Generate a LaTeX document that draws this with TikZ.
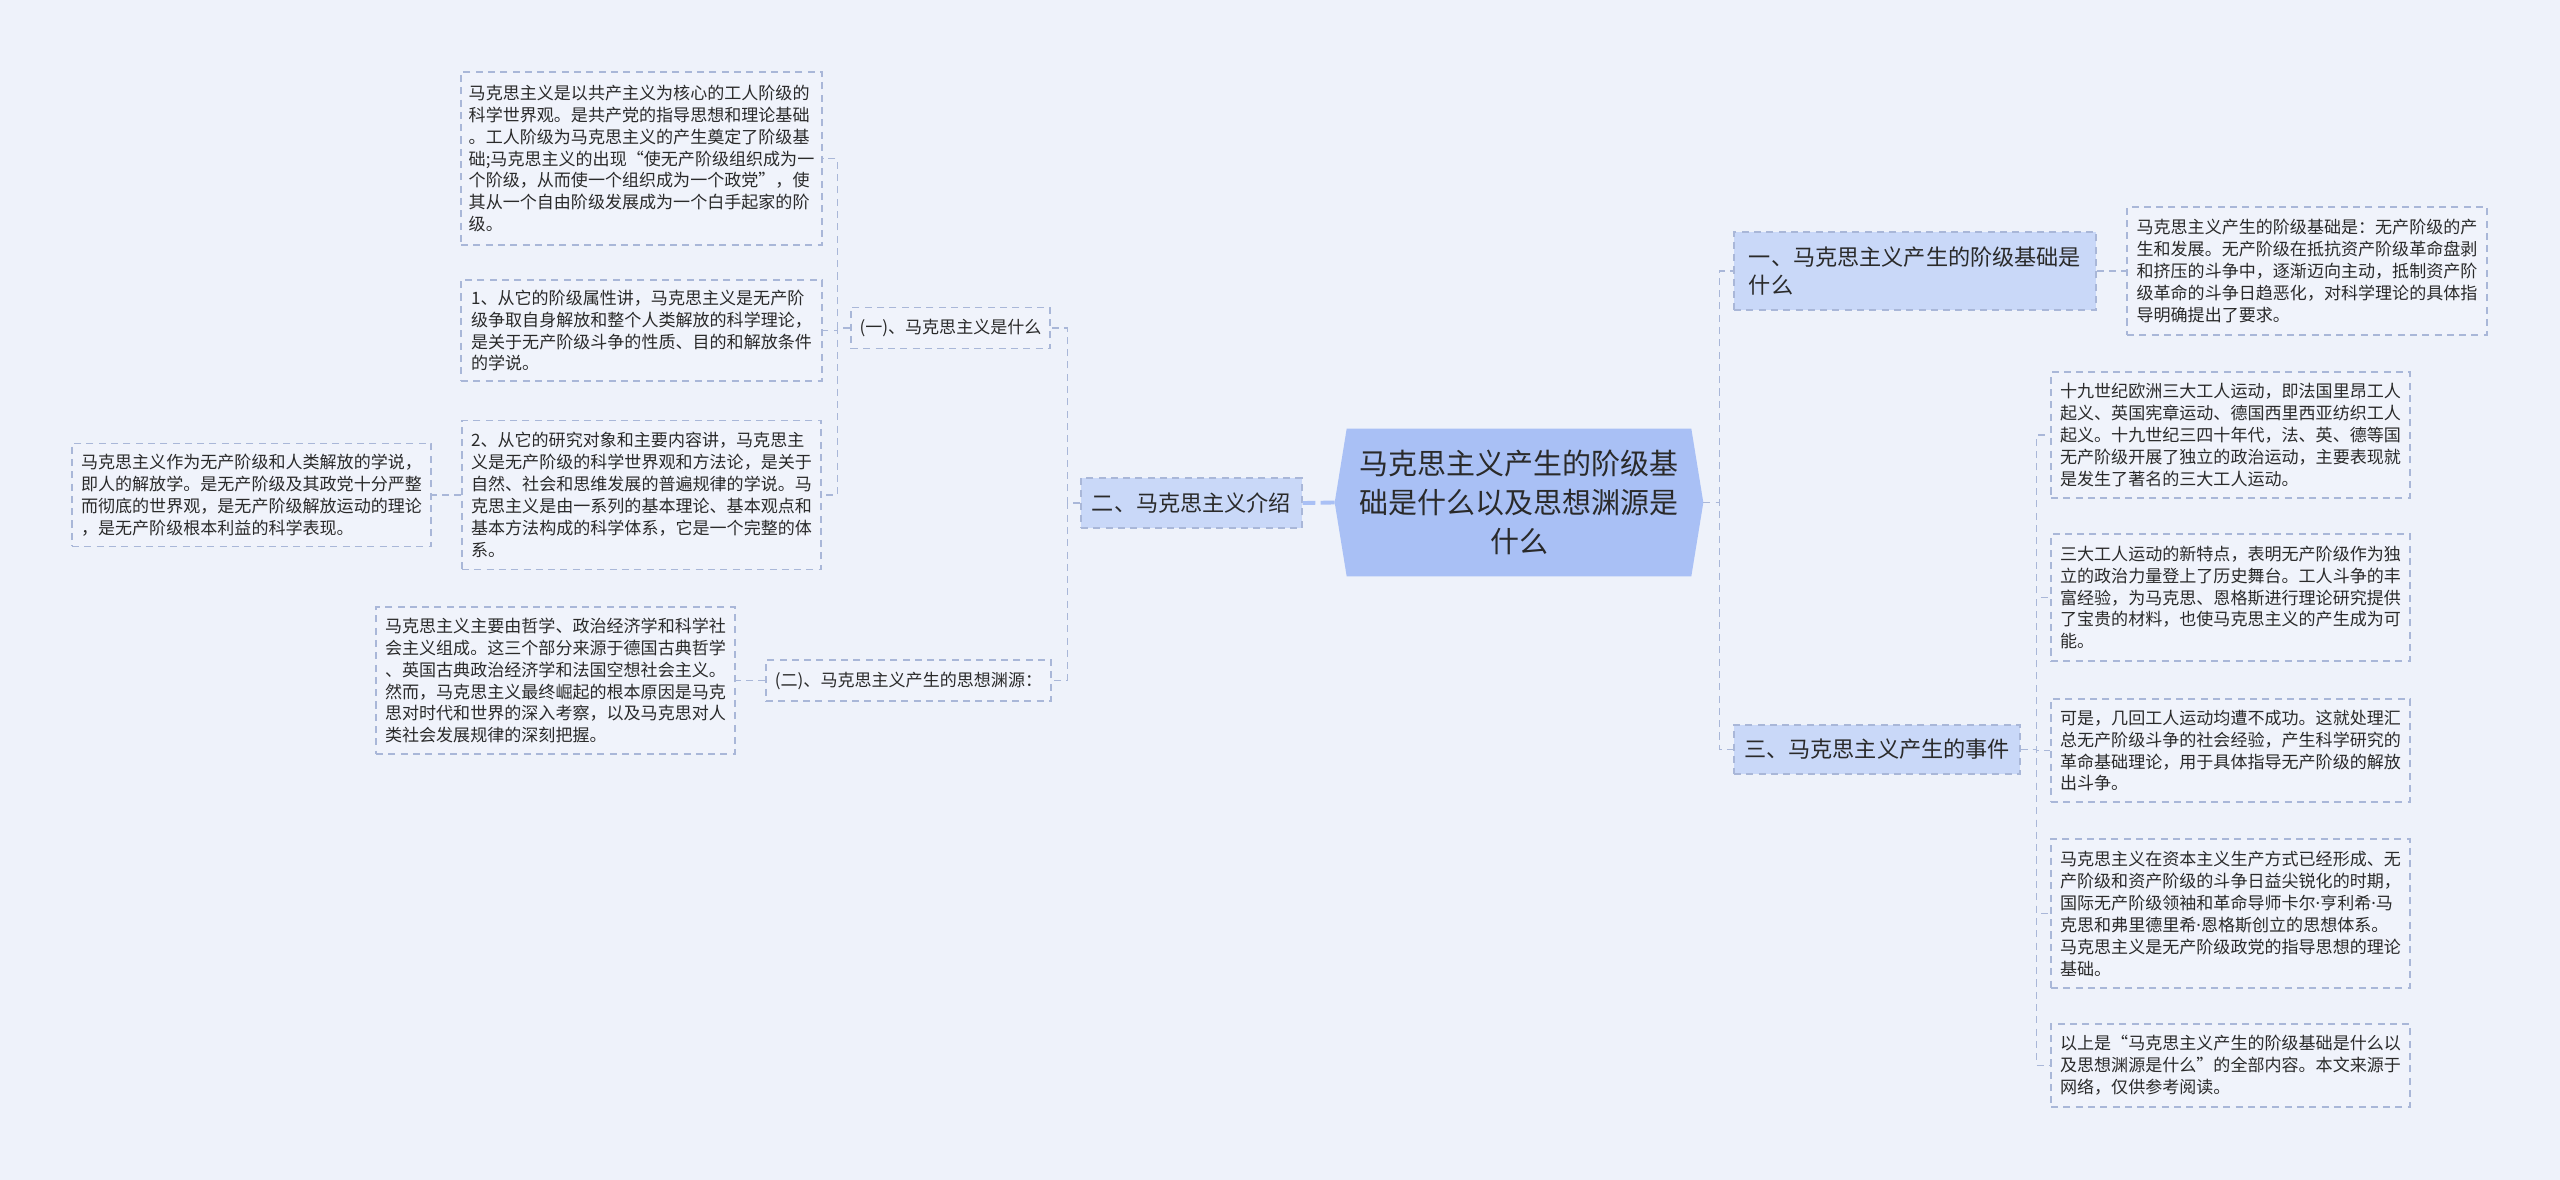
\documentclass[tikz,border=0pt]{standalone}
\usepackage{fontspec}
\setmainfont{Noto Sans CJK SC}
\newfontfamily\dotfont{Noto Sans}
\newcommand\mdot{{\dotfont ·}}
\definecolor{bgcol}{HTML}{EEF2FA}
\definecolor{leafcol}{HTML}{F0F3FB}
\definecolor{linecol}{HTML}{A9B7D8}
\definecolor{topiccol}{HTML}{C9D8F8}
\definecolor{rootcol}{HTML}{A9C0F5}
\definecolor{txtcol}{HTML}{2A2A2A}
\pgfdeclarelayer{bg}
\pgfsetlayers{bg,main}

\begin{document}
\begin{tikzpicture}[x=0.02cm,y=-0.02cm,
  leaf/.style={draw=linecol,fill=leafcol,dash pattern=on 4pt off 3pt,line width=0.7pt,text=txtcol,align=left,font=\fontsize{9.7pt}{12.5pt}\selectfont},
  subtopic/.style={leaf,minimum height=0.82cm},
  topic/.style={leaf,fill=topiccol,align=left,font=\fontsize{12.6pt}{15.9pt}\selectfont},
  root/.style={text=txtcol,align=center,minimum width=6.88cm,minimum height=2.94cm,font=\fontsize{16.5pt}{22pt}\selectfont},
  link/.style={draw=linecol,dash pattern=on 4pt off 3pt,line width=0.7pt},
  mainlink/.style={draw=rootcol,dash pattern=on 8pt off 3pt,line width=2.2pt}]
\tikzstyle{every node}+=[inner sep=0pt]
\node[root] (c) at (1519,502.5) {马克思主义产生的阶级基\\础是什么以及思想渊源是\\什么};
\node[topic,minimum width=4.42cm,minimum height=1cm] (b2) at (1191.5,503) {二、马克思主义介绍};
\node[topic,minimum width=7.24cm,minimum height=1.56cm] (a1) at (1915,271) {一、马克思主义产生的阶级基础是\\什么};
\node[topic,minimum width=5.72cm,minimum height=0.98cm] (a3) at (1877,749.5) {三、马克思主义产生的事件};
\node[subtopic,minimum width=3.98cm] (y1) at (950.5,328) {(一)、马克思主义是什么};
\node[subtopic,minimum width=5.7cm] (y2) at (908.5,680.5) {(二)、马克思主义产生的思想渊源：};
\node[leaf,minimum width=7.22cm,minimum height=3.46cm] (l1) at (641.5,158.5) {马克思主义是以共产主义为核心的工人阶级的\\科学世界观。是共产党的指导思想和理论基础\\。工人阶级为马克思主义的产生奠定了阶级基\\础;马克思主义的出现“使无产阶级组织成为一\\个阶级，从而使一个组织成为一个政党”，使\\其从一个自由阶级发展成为一个白手起家的阶\\级。};
\node[leaf,minimum width=7.22cm,minimum height=2.02cm] (l2) at (641.5,330.5) {1、从它的阶级属性讲，马克思主义是无产阶\\级争取自身解放和整个人类解放的科学理论，\\是关于无产阶级斗争的性质、目的和解放条件\\的学说。};
\node[leaf,minimum width=7.18cm,minimum height=2.98cm] (l3) at (641.5,495) {2、从它的研究对象和主要内容讲，马克思主\\义是无产阶级的科学世界观和方法论，是关于\\自然、社会和思维发展的普遍规律的学说。马\\克思主义是由一系列的基本理论、基本观点和\\基本方法构成的科学体系，它是一个完整的体\\系。};
\node[leaf,minimum width=7.18cm,minimum height=2.06cm] (l3a) at (251.5,495) {马克思主义作为无产阶级和人类解放的学说，\\即人的解放学。是无产阶级及其政党十分严整\\而彻底的世界观，是无产阶级解放运动的理论\\，是无产阶级根本利益的科学表现。};
\node[leaf,minimum width=7.18cm,minimum height=2.94cm] (l4) at (555.5,680.5) {马克思主义主要由哲学、政治经济学和科学社\\会主义组成。这三个部分来源于德国古典哲学\\、英国古典政治经济学和法国空想社会主义。\\然而，马克思主义最终崛起的根本原因是马克\\思对时代和世界的深入考察，以及马克思对人\\类社会发展规律的深刻把握。};
\node[leaf,minimum width=7.2cm,minimum height=2.56cm] (r1) at (2307,271) {马克思主义产生的阶级基础是：无产阶级的产\\生和发展。无产阶级在抵抗资产阶级革命盘剥\\和挤压的斗争中，逐渐迈向主动，抵制资产阶\\级革命的斗争日趋恶化，对科学理论的具体指\\导明确提出了要求。};
\node[leaf,minimum width=7.18cm,minimum height=2.52cm] (r2) at (2230.5,435) {十九世纪欧洲三大工人运动，即法国里昂工人\\起义、英国宪章运动、德国西里西亚纺织工人\\起义。十九世纪三四十年代，法、英、德等国\\无产阶级开展了独立的政治运动，主要表现就\\是发生了著名的三大工人运动。};
\node[leaf,minimum width=7.18cm,minimum height=2.54cm] (r3) at (2230.5,597.5) {三大工人运动的新特点，表明无产阶级作为独\\立的政治力量登上了历史舞台。工人斗争的丰\\富经验，为马克思、恩格斯进行理论研究提供\\了宝贵的材料，也使马克思主义的产生成为可\\能。};
\node[leaf,minimum width=7.18cm,minimum height=2.06cm] (r4) at (2230.5,750.5) {可是，几回工人运动均遭不成功。这就处理汇\\总无产阶级斗争的社会经验，产生科学研究的\\革命基础理论，用于具体指导无产阶级的解放\\出斗争。};
\node[leaf,minimum width=7.18cm,minimum height=2.98cm] (r5) at (2230.5,913.5) {马克思主义在资本主义生产方式已经形成、无\\产阶级和资产阶级的斗争日益尖锐化的时期，\\国际无产阶级领袖和革命导师卡尔\mdot 亨利希\mdot 马\\克思和弗里德里希\mdot 恩格斯创立的思想体系。\\马克思主义是无产阶级政党的指导思想的理论\\基础。};
\node[leaf,minimum width=7.18cm,minimum height=1.66cm] (r6) at (2230.5,1065.5) {以上是“马克思主义产生的阶级基础是什么以\\及思想渊源是什么”的全部内容。本文来源于\\网络，仅供参考阅读。};
\draw[mainlink] ([xshift=-0.24cm]c.west) -- (b2.east);
\draw[link] ([xshift=0.24cm]c.east) -- ++(16,0) |- (a1.west);
\draw[link] ([xshift=0.24cm]c.east) -- ++(16,0) |- (a3.west);
\draw[link] (a1.east) -- (r1.west);
\draw[link] (a3.east) -- ++(16,0) |- (r2.west);
\draw[link] (a3.east) -- ++(16,0) |- (r3.west);
\draw[link] (a3.east) -- ++(16,0) |- (r4.west);
\draw[link] (a3.east) -- ++(16,0) |- (r5.west);
\draw[link] (a3.east) -- ++(16,0) |- (r6.west);
\draw[link] (b2.west) -- ++(-13,0) |- (y1.east);
\draw[link] (b2.west) -- ++(-13,0) |- (y2.east);
\draw[link] (y1.west) -- ++(-13,0) |- (l1.east);
\draw[link] (y1.west) -- ++(-13,0) |- (l2.east);
\draw[link] (y1.west) -- ++(-13,0) |- (l3.east);
\draw[link] (l3.west) -- (l3a.east);
\draw[link] (y2.west) -- (l4.east);
\begin{pgfonlayer}{bg}
\fill[bgcol] (0,0) rectangle (2560,1180);
\fill[rootcol] (c.north west) -- (c.north east) -- ([xshift=0.24cm]c.east) -- (c.south east) -- (c.south west) -- ([xshift=-0.24cm]c.west) -- cycle;
\end{pgfonlayer}
\end{tikzpicture}
\end{document}
